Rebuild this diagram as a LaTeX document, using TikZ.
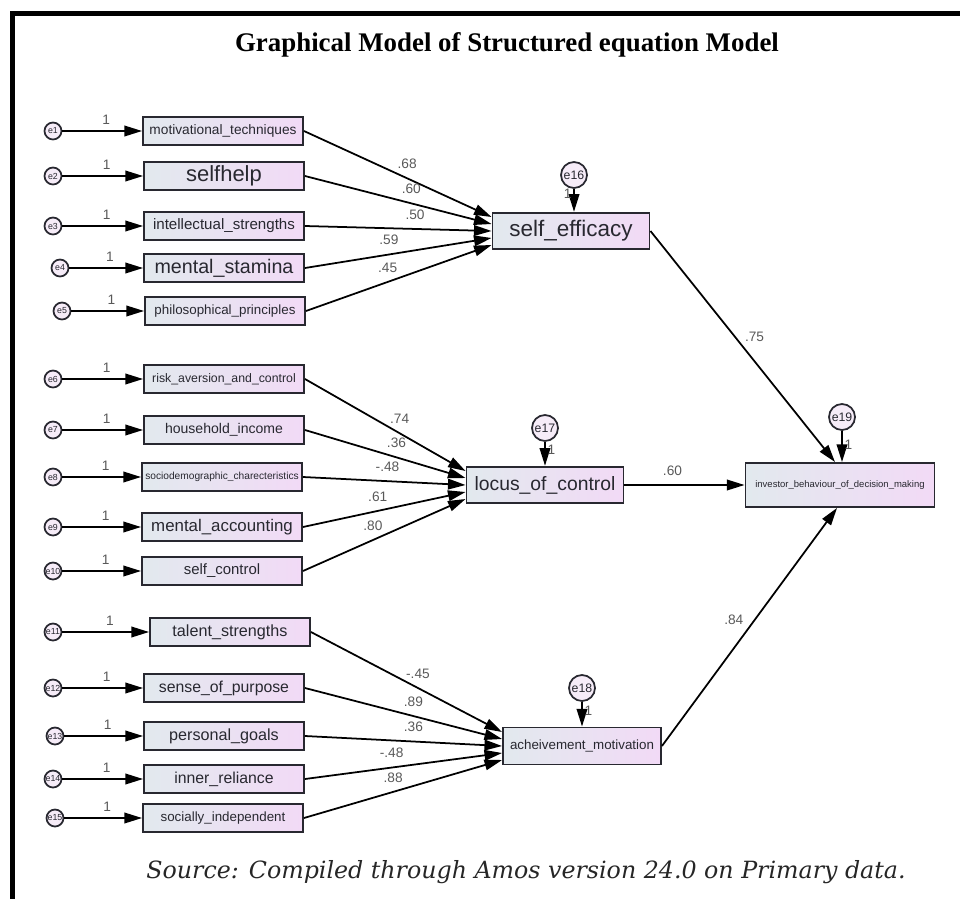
\documentclass[tikz,border=0pt]{standalone}
\usepackage{fontspec}
\setmainfont{Liberation Serif}
\setsansfont{Liberation Sans}
\newfontfamily\notefont{DejaVu Serif}
\usetikzlibrary{arrows.meta, positioning, calc}
\definecolor{boxblue}{RGB}{226,233,238}
\definecolor{boxpink}{RGB}{242,218,246}
\definecolor{errfill}{RGB}{246,236,248}
\definecolor{ink}{RGB}{40,40,48}
\newcommand{\fsz}[1]{\fontsize{#1}{#1}\selectfont}

\tikzset{
  obs/.style={draw=ink, line width=1.1pt, left color=boxblue, right color=boxpink,
    minimum width=3.2cm, minimum height=0.56cm, inner sep=0.5pt, font=\sffamily, text=ink},
  lat/.style={obs, minimum width=3.14cm, minimum height=0.73cm},
  err/.style={circle, draw=ink, line width=1pt, fill=errfill, minimum size=0.34cm,
    inner sep=0pt, font=\sffamily\fsz{5}, text=ink},
  dist/.style={err, minimum size=0.52cm, font=\sffamily\fsz{7}},
  arr/.style={-{Triangle[length=10pt,width=6pt]}, line width=1pt, draw=black},
  coef/.style={font=\sffamily\fsz{7.8}, text=black!65, inner sep=1pt},
}

\begin{document}
\begin{tikzpicture}[x=0.02cm, y=-0.02cm]
\useasboundingbox (0,0) rectangle (960,899);
% frame and title
\draw[line width=3.4pt] (12.5,899) -- (12.5,13.5) -- (960,13.5);
\node[font=\bfseries\fsz{15.3}] (title) at (507,45) {Graphical Model of Structured equation Model};

% observed indicators with their error terms
\foreach \i/\ex/\bx/\y/\fs/\txt in {
  1/53/223/131/7.8/motivational\_techniques,
  2/53/224/176/12.5/selfhelp,
  3/53/224/226/8.6/intellectual\_strengths,
  4/60/224/268/11.2/mental\_stamina,
  5/62/225/311/7.6/philosophical\_principles,
  6/53/224/379/7/risk\_aversion\_and\_control,
  7/53/224/430/8/household\_income,
  8/53/222/477/5.8/sociodemographic\_charecteristics,
  9/53/222/527/9.6/mental\_accounting,
  10/53/222/571/8.5/self\_control,
  11/53/230/632/9.2/talent\_strengths,
  12/53/224/688/9/sense\_of\_purpose,
  13/55/224/736/9.2/personal\_goals,
  14/53/224/779/9/inner\_reliance,
  15/55/223/818/7.6/socially\_independent}{
  \node[obs, font=\sffamily\fsz{\fs}] (x\i) at (\bx,\y) {\txt};
  \node[err] (e\i) at (\ex,\y) {e\i};
  \draw[arr] (e\i) -- node[coef, above=2pt, pos=0.55] {1} (x\i);
}

% latent variables
\node[lat, font=\sffamily\fsz{12.8}] (se) at (571,231) {self\_efficacy};
\node[lat, font=\sffamily\fsz{11}] (lc) at (545,485) {locus\_of\_control};
\node[lat, minimum width=3.16cm, minimum height=0.74cm, font=\sffamily\fsz{7.6}] (am) at (582,746) {acheivement\_motivation};
\node[obs, minimum width=3.78cm, minimum height=0.88cm, font=\sffamily\fsz{5.4}] (inv) at (840,485) {investor\_behaviour\_of\_decision\_making};

% disturbances
\node[dist] (e16) at (574,175) {e16};
\node[dist] (e17) at (545,428) {e17};
\node[dist] (e18) at (582,688) {e18};
\node[dist] (e19) at (842,417) {e19};
\draw[arr] (e16) -- node[coef, left=0pt, pos=0.2] {1} (e16 |- se.north);
\draw[arr] (e17) -- node[coef, right=0pt, pos=0.35] {1} (e17 |- lc.north);
\draw[arr] (e18) -- node[coef, right=0pt, pos=0.35] {1} (e18 |- am.north);
\draw[arr] (e19) -- node[coef, right=0pt, pos=0.45] {1} (e19 |- inv.north);

% loadings
\foreach \i/\dy/\p/\c in {1/-14/0.55/.68, 2/-7/0.57/.60, 3/0/0.59/.50, 4/7/0.45/.59, 5/14/0.44/.45}
  \draw[arr] (x\i.east) -- node[coef, above=4pt, pos=\p] {\c} ($(se.west)+(0,\dy)$);
\foreach \i/\dy/\p/\c in {6/-14/0.59/.74, 7/-7/0.57/.36, 8/0/0.52/-.48, 9/7/0.46/.61, 10/14/0.43/.80}
  \draw[arr] (x\i.east) -- node[coef, above=4pt, pos=\p] {\c} ($(lc.west)+(0,\dy)$);
\foreach \i/\dy/\p/\c in {11/-14/0.56/-.45, 12/-7/0.55/.89, 13/0/0.55/.36, 14/7/0.44/-.48, 15/14/0.45/.88}
  \draw[arr] (x\i.east) -- node[coef, above=4pt, pos=\p] {\c} ($(am.west)+(0,\dy)$);

% paths to the outcome
\draw[arr] (se.east) -- node[coef, right=4pt, pos=0.46] {.75} ($(inv.north)+(-5,0)$);
\draw[arr] (lc) -- node[coef, above=4pt, pos=0.4] {.60} (inv);
\draw[arr] (am.east) -- node[coef, left=5pt, pos=0.53] {.84} ($(inv.south)+(-3,0)$);

\node[font=\notefont\itshape\fsz{13.5}, text=black!85] (source) at (526,872) {Source: Compiled through Amos version 24.0 on Primary data.};
\end{tikzpicture}
\end{document}
